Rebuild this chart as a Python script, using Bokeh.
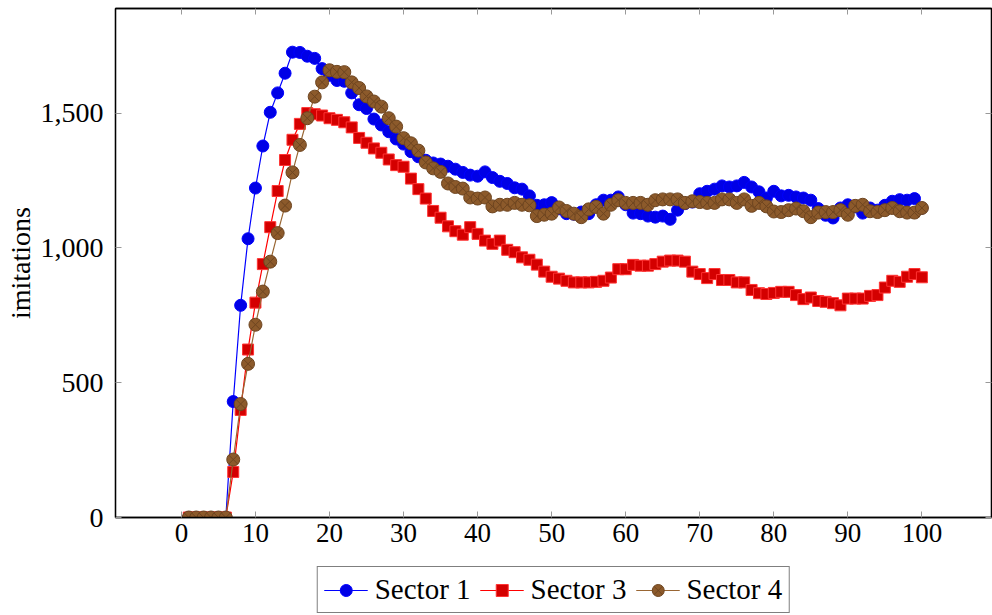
from bokeh.plotting import figure
from bokeh.layouts import column
from bokeh.models import Legend, LegendItem, LinearAxis, NumeralTickFormatter, FixedTicker, Range1d
from bokeh.embed import file_html
from bokeh.resources import INLINE

# time steps
steps = list(range(1, 101))

sector1 = [0, 0, 0, 0, 0, 0, 430, 787, 1034, 1222, 1378, 1503, 1575, 1648, 1726, 1725, 1711, 1703, 1665, 1640,
           1621, 1618, 1575, 1531, 1517, 1478, 1456, 1431, 1404, 1385, 1357, 1338, 1325, 1315, 1311, 1303, 1292, 1280, 1270, 1266,
           1282, 1261, 1247, 1239, 1223, 1218, 1193, 1158, 1160, 1168, 1145, 1127, 1125, 1133, 1127, 1160, 1177, 1177, 1189, 1160,
           1129, 1127, 1118, 1114, 1118, 1106, 1140, 1164, 1170, 1201, 1210, 1218, 1230, 1226, 1230, 1243, 1226, 1208, 1185, 1210,
           1193, 1195, 1189, 1185, 1177, 1146, 1121, 1111, 1148, 1160, 1152, 1129, 1148, 1140, 1158, 1173, 1179, 1177, 1183, 1148]

sector3 = [0, 0, 0, 0, 0, 0, 169, 399, 623, 797, 940, 1077, 1211, 1326, 1401, 1460, 1500, 1496, 1491, 1481,
           1475, 1466, 1447, 1408, 1390, 1369, 1353, 1328, 1307, 1301, 1257, 1218, 1183, 1137, 1112, 1080, 1062, 1049, 1077, 1052,
           1027, 1015, 1027, 993, 984, 965, 956, 938, 912, 893, 886, 878, 872, 872, 872, 874, 878, 890, 921, 921,
           937, 934, 934, 940, 949, 953, 953, 949, 912, 903, 888, 903, 881, 881, 872, 872, 844, 832, 829, 833,
           837, 837, 825, 810, 816, 803, 800, 795, 787, 812, 812, 812, 822, 825, 853, 878, 874, 893, 903, 891]

sector4 = [0, 0, 0, 0, 0, 0, 215, 421, 570, 715, 838, 949, 1055, 1157, 1280, 1382, 1481, 1561, 1614, 1659,
           1653, 1652, 1614, 1593, 1562, 1543, 1524, 1481, 1450, 1407, 1388, 1361, 1317, 1295, 1282, 1239, 1226, 1220, 1187, 1183,
           1187, 1154, 1160, 1160, 1167, 1160, 1158, 1118, 1123, 1127, 1150, 1137, 1127, 1114, 1143, 1152, 1127, 1160, 1177, 1167,
           1167, 1167, 1160, 1177, 1180, 1180, 1180, 1167, 1173, 1170, 1167, 1167, 1180, 1180, 1167, 1180, 1156, 1167, 1154, 1135,
           1133, 1140, 1146, 1136, 1114, 1131, 1133, 1133, 1140, 1123, 1156, 1160, 1136, 1133, 1140, 1148, 1136, 1131, 1131, 1148]

series_names = ["Sector 1", "Sector 3", "Sector 4"]

x_ticks = [0, 10, 20, 30, 40, 50, 60, 70, 80, 90, 100]
y_ticks = [0, 500, 1000, 1500]

FONT = "Liberation Serif"
TICK_GREY = "#999999"

STYLES = [
    dict(line_color="#0000ff", marker="circle", size=12, fill_color="#0000e6", mline="#0000ff"),
    dict(line_color="#ff0000", marker="square", size=11, fill_color="#d40000", mline="#ff3333"),
    dict(line_color="#996633", marker="circle_x", size=13, fill_color="#8c5a2b", mline="#6e4520"),
]


def draw_series(fig, ys, st):
    ln = fig.line(steps, ys, line_color=st["line_color"], line_width=1.2)
    mk = fig.scatter(steps, ys, marker=st["marker"], size=st["size"],
                     fill_color=st["fill_color"], line_color=st["mline"], line_width=1)
    return ln, mk


# ---- main plot ----
p = figure(width=992, height=560, output_backend="svg", toolbar_location=None,
           x_range=Range1d(-8.9, 109.4), y_range=Range1d(0, 1888),
           min_border_left=115, min_border_right=1, min_border_top=8, min_border_bottom=43)
p.grid.visible = False
p.outline_line_color = "black"
p.outline_line_width = 1.3

for ax in list(p.xaxis) + list(p.yaxis):
    ax.axis_line_color = "black"
    ax.axis_line_width = 1.3
    ax.major_tick_in = 6
    ax.major_tick_out = 0
    ax.major_tick_line_color = TICK_GREY
    ax.minor_tick_line_color = None
    ax.major_label_text_font = FONT
    ax.major_label_text_color = "black"

for ax in p.xaxis:
    ax.ticker = FixedTicker(ticks=x_ticks)
    ax.major_label_standoff = 6
    ax.major_label_text_font_size = "27px"
for ax in p.yaxis:
    ax.ticker = FixedTicker(ticks=y_ticks)
    ax.formatter = NumeralTickFormatter(format="0,0")
    ax.axis_label = "imitations"
    ax.axis_label_text_font = FONT
    ax.axis_label_text_font_style = "normal"
    ax.axis_label_text_font_size = "28px"
    ax.axis_label_text_color = "black"
    ax.axis_label_standoff = 2
    ax.major_label_standoff = 12
    ax.major_label_text_font_size = "28px"


# mirrored ticks on the top and right sides of the box, without labels
def mirror_axis(ticks):
    return LinearAxis(ticker=FixedTicker(ticks=ticks),
                      major_label_overrides={t: "" for t in ticks},
                      major_label_text_font_size="1px", major_label_standoff=0,
                      major_tick_in=6, major_tick_out=0, major_tick_line_color=TICK_GREY,
                      minor_tick_line_color=None, axis_line_color="black", axis_line_width=1.3)


p.add_layout(mirror_axis(x_ticks), "above")
p.add_layout(mirror_axis(y_ticks), "right")

for ys, st in zip([sector1, sector3, sector4], STYLES):
    draw_series(p, ys, st)

# ---- legend strip under the plot ----
lg = figure(width=992, height=55, output_backend="svg", toolbar_location=None,
            x_range=Range1d(-8.9, 109.4), y_range=Range1d(5000, 6000),
            min_border_left=115, min_border_right=1, min_border_top=0, min_border_bottom=0,
            x_axis_location=None, y_axis_location=None)
lg.grid.visible = False
lg.outline_line_color = None

items = []
for name, ys, st in zip(series_names, [sector1, sector3, sector4], STYLES):
    ln, mk = draw_series(lg, ys, st)
    items.append(LegendItem(label=name, renderers=[ln, mk]))

legend = Legend(items=items, orientation="horizontal", location="bottom",
                label_text_font=FONT, label_text_font_size="29px", label_text_color="black",
                border_line_color="black", border_line_width=1.2,
                glyph_width=44, glyph_height=30, spacing=9, padding=6, margin=2,
                label_standoff=7)
lg.add_layout(legend)

page = column(p, lg, spacing=0)
open("out.html", "w").write(file_html(page, INLINE))
